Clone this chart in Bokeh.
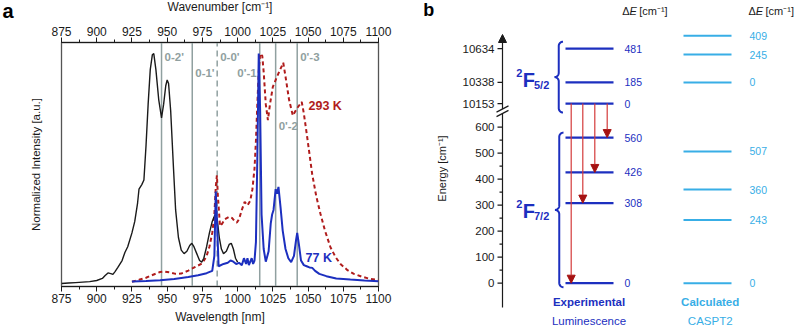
import numpy as np
from bokeh.plotting import figure
from bokeh.layouts import row, column
from bokeh.models import (ColumnDataSource, LinearAxis, SingleIntervalTicker, FixedTicker,
                          Range1d, Arrow, NormalHead, Spacer)
from bokeh.core.properties import value
from bokeh.embed import file_html
from bokeh.resources import INLINE

FONT = "Liberation Sans"
BLACK = "#1a1a1a"
EXP_BLUE = "#1c2fbf"
CALC_BLUE = "#38aee6"
RED = "#b01c1c"
GRAY = "#90a0a0"

# ---------------- panel a : emission spectra ----------------
black_wl = [875, 880, 885, 890, 895, 900, 904, 906, 908, 910, 911.5, 913, 915, 918, 920, 922,
            925, 927, 929, 930, 932, 933.5, 935, 936.5, 938, 939.5, 940.5, 942, 944, 946,
            947.5, 949, 950, 951, 952.5, 954.5, 956, 958, 960, 962, 964, 966, 967.5, 969,
            971, 973, 974.5, 976, 978, 980, 982, 984, 985.5, 987, 988.5, 990, 992, 994,
            995.5, 997, 998.5, 1000]
black_int = [0.0, 0.002, 0.004, 0.006, 0.008, 0.013, 0.022, 0.035, 0.046, 0.043, 0.04, 0.052,
             0.07, 0.1, 0.135, 0.16, 0.22, 0.27, 0.35, 0.41, 0.43, 0.45, 0.60, 0.78, 0.93,
             0.995, 1.0, 0.93, 0.80, 0.72, 0.78, 0.86, 0.885, 0.87, 0.75, 0.5, 0.32, 0.2,
             0.145, 0.13, 0.14, 0.165, 0.175, 0.16, 0.13, 0.10, 0.093, 0.11, 0.16, 0.22,
             0.27, 0.30, 0.28, 0.20, 0.15, 0.13, 0.14, 0.17, 0.175, 0.15, 0.11, 0.093]

k77_wl = [925, 935, 945, 955, 965, 972, 978, 982, 983.5, 984.5, 985.5, 986.5, 990, 993, 995,
          997, 999, 1001, 1003, 1004.5, 1006, 1007, 1008, 1010, 1011, 1012, 1013, 1014, 1015,
          1016, 1017, 1018.5, 1020, 1022, 1023.5, 1024.5, 1025.5, 1027, 1028, 1029, 1030.5,
          1032, 1034, 1036, 1038, 1040, 1041.5, 1042.3, 1043.5, 1045, 1047, 1049, 1051, 1053,
          1055, 1058, 1063, 1070, 1080, 1090, 1100]
k77_int = [0.009, 0.011, 0.014, 0.02, 0.028, 0.036, 0.045, 0.055, 0.12, 0.40, 0.25, 0.075,
           0.085, 0.09, 0.10, 0.095, 0.085, 0.09, 0.08, 0.11, 0.085, 0.11, 0.08, 0.11, 0.085,
           0.10, 0.18, 0.55, 1.0, 0.75, 0.30, 0.15, 0.095, 0.14, 0.26, 0.30, 0.32, 0.41, 0.39,
           0.42, 0.33, 0.23, 0.15, 0.11, 0.093, 0.12, 0.19, 0.22, 0.17, 0.10, 0.08, 0.075,
           0.07, 0.068, 0.055, 0.042, 0.032, 0.022, 0.017, 0.013, 0.01]

k293_wl = [925, 930, 935, 940, 945, 948, 952, 956, 960, 965, 970, 975, 978, 980, 982, 983.5,
           984.5, 985.3, 986, 987.5, 989, 991, 994, 996, 998, 999.5, 1001, 1003, 1005, 1007,
           1009, 1010.5, 1012, 1013, 1014, 1015, 1016, 1017.5, 1018.5, 1020, 1021.5, 1023,
           1025, 1028, 1032.4, 1034, 1036.5, 1039.2, 1042, 1045.5, 1047, 1049.4, 1052.9,
           1055.8, 1058.8, 1062, 1065.9, 1069.5, 1073, 1078, 1082.5, 1088, 1094, 1100]
k293_int = [0.008, 0.016, 0.025, 0.038, 0.05, 0.052, 0.048, 0.042, 0.043, 0.056, 0.072, 0.088,
            0.12, 0.16, 0.22, 0.30, 0.42, 0.47, 0.38, 0.25, 0.26, 0.28, 0.29, 0.285, 0.27,
            0.265, 0.28, 0.32, 0.355, 0.34, 0.36, 0.41, 0.50, 0.62, 0.78, 0.92, 1.0, 0.99,
            0.92, 0.78, 0.71, 0.78, 0.855, 0.90, 0.96, 0.90, 0.80, 0.73, 0.76, 0.79, 0.74,
            0.636, 0.477, 0.38, 0.303, 0.23, 0.158, 0.115, 0.085, 0.058, 0.042, 0.03, 0.02,
            0.016]

trans_pos = [946.0, 967.8, 985.5, 1015.7, 1027.0, 1042.3]
trans_lab = ["0-2'", "0-1'", "0-0'", "0'-1", "0'-2", "0'-3"]
trans_dashed = [False, False, True, False, False, False]
trans_lab_y = [0.983, 0.917, 0.983, 0.917, 0.687, 0.983]
trans_lab_left = [False, False, False, True, False, False]

series_names = ["293 K", "77 K"]
series_lab_x = [1050.3, 1048.2]
series_lab_y = [0.774, 0.113]
series_colors = [RED, EXP_BLUE]

XMIN, XMAX = 875, 1100
YMIN, YMAX = -0.013, 1.048
A_W = 20                               # strip holding the panel letter "a"
A_H = 30
FRAME_L, FRAME_R = 61 - A_W, 22        # px borders of panel a frame
PA_W = 400 - A_W
PXNM = (PA_W - FRAME_L - FRAME_R) / (XMAX - XMIN)
HDR_H = 17


def no_align(p):
    try:
        p.frame_align = False
    except Exception:
        pass
    return p


def blank_fig(w, h, xr, yr):
    f = figure(width=w, height=h, x_range=xr, y_range=yr, output_backend="svg",
               toolbar_location=None, x_axis_location=None, y_axis_location=None,
               min_border=0, outline_line_color=None)
    for g in f.grid:
        g.visible = False
    return f


# panel letter a
afig = blank_fig(A_W, A_H, Range1d(0, A_W), Range1d(0, A_H))
afig.text(x=[2], y=[A_H - 10.5], text=["a"], text_font=value(FONT), text_font_size="20px",
          text_font_style="bold", text_color="black", text_align="left",
          text_baseline="middle")

# header strip of panel a (top-axis title)
hdr = blank_fig(PA_W, HDR_H, Range1d(XMIN - FRAME_L / PXNM, XMAX + FRAME_R / PXNM),
                Range1d(0, HDR_H))
hdr.text(x=[(XMIN + XMAX) / 2], y=[HDR_H - 6.5], text=["Wavenumber [cm⁻¹]"],
         text_font=value(FONT), text_font_size="12px", text_color=BLACK,
         text_align="center", text_baseline="middle")

p1 = figure(width=PA_W, height=326 - HDR_H, x_range=Range1d(XMIN, XMAX),
            y_range=Range1d(YMIN, YMAX), output_backend="svg", toolbar_location=None,
            min_border_left=FRAME_L, min_border_right=FRAME_R, min_border_top=42 - HDR_H,
            min_border_bottom=40)
p1.xgrid.visible = False
p1.ygrid.visible = False
p1.outline_line_color = "#555555"
p1.outline_line_width = 1.3

top_axis = LinearAxis()
p1.add_layout(top_axis, "above")
for ax in [p1.below[0], top_axis]:
    ax.ticker = SingleIntervalTicker(interval=25, num_minor_ticks=2)
    ax.major_tick_in = 0
    ax.major_tick_out = 5
    ax.minor_tick_in = 0
    ax.minor_tick_out = 3
    ax.axis_line_color = BLACK
    ax.major_tick_line_color = BLACK
    ax.minor_tick_line_color = BLACK
    ax.major_label_text_font = FONT
    ax.major_label_text_font_size = "12px"
    ax.major_label_text_color = BLACK
    ax.axis_label_text_font = FONT
    ax.axis_label_text_font_size = "12px"
    ax.axis_label_text_font_style = "normal"
    ax.axis_label_text_color = BLACK
    ax.major_label_standoff = 2
    ax.axis_label_standoff = 4
p1.below[0].axis_label = "Wavelength [nm]"

yax = p1.left[0]
yax.ticker = FixedTicker(ticks=[])
yax.axis_line_color = None
yax.major_tick_line_color = None
yax.minor_tick_line_color = None
yax.axis_label = "Normalized Intensity [a.u.]"
yax.axis_label_text_font = FONT
yax.axis_label_text_font_size = "11.5px"
yax.axis_label_text_font_style = "normal"
yax.axis_label_text_color = BLACK
yax.axis_label_standoff = 20

solid_x = [x for x, d in zip(trans_pos, trans_dashed) if not d]
dash_x = [x for x, d in zip(trans_pos, trans_dashed) if d]
p1.segment(x0=solid_x, y0=YMIN - 1, x1=solid_x, y1=YMAX + 1, line_color=GRAY, line_width=1.5)
p1.segment(x0=dash_x, y0=YMIN - 1, x1=dash_x, y1=YMAX + 1, line_color=GRAY, line_width=1.5,
           line_dash="6 4")

p1.line(k293_wl, k293_int, line_color=RED, line_width=2, line_dash="4 3")
p1.line(black_wl, black_int, line_color=BLACK, line_width=1.4)
p1.line(k77_wl, k77_int, line_color=EXP_BLUE, line_width=2)

for left in [False, True]:
    idx = [i for i, l in enumerate(trans_lab_left) if l == left]
    p1.text(x=[trans_pos[i] for i in idx], y=[trans_lab_y[i] for i in idx],
            text=[trans_lab[i] for i in idx], text_font=value(FONT), text_font_size="11.5px",
            text_font_style="bold", text_color=GRAY,
            text_align="right" if left else "left", text_baseline="middle",
            x_offset=-3 if left else 3)

p1.text(x=series_lab_x, y=series_lab_y, text=series_names, text_color=series_colors,
        text_font=value(FONT), text_font_size="12.5px", text_font_style="bold",
        text_align="left", text_baseline="middle")

# ---------------- panel b : energy level diagram ----------------
f52_origin = 10153
exp_f52 = [0, 185, 481]
exp_f72 = [0, 308, 426, 560]
calc_f52_origin = 10338
calc_f52 = [0, 245, 409]
calc_f72 = [0, 243, 360, 507]
emission_to = [0, 308, 426, 560]
energy_ticks_low = [0, 100, 200, 300, 400, 500, 600]
energy_minor_low = [50, 150, 250, 350, 450, 550]
energy_ticks_high = [10153, 10338, 10634]

# broken energy axis: plot coordinate = E below the break, compressed above it
UP_BASE_Y = 691.0
UP_SCALE = 0.4385


def ey(E):
    E = np.asarray(E, dtype=float)
    return np.where(E > 5000, UP_BASE_Y + (E - f52_origin) * UP_SCALE, E)


PX0, PXU = 282.7, 0.26   # layout helper: pixel row -> plot coordinate


def py(px):
    return (PX0 - px) / PXU


p2 = blank_fig(396, 326, Range1d(0, 396), Range1d(py(326), py(0)))

AX_X = 102
p2.segment(x0=[AX_X], y0=[py(307)], x1=[AX_X], y1=[py(113)], line_color=BLACK, line_width=1.2)
c1, c2 = py(108.5), py(113)
p2.segment(x0=[AX_X - 6, AX_X - 6], y0=[c1 - 12, c2 - 12], x1=[AX_X + 6, AX_X + 6],
           y1=[c1 + 12, c2 + 12], line_color=BLACK, line_width=1.2)
p2.add_layout(Arrow(end=NormalHead(size=8, fill_color=BLACK, line_color=BLACK),
                    x_start=AX_X, y_start=c1, x_end=AX_X, y_end=py(34),
                    line_color=BLACK, line_width=1.2))

major_y = np.concatenate([ey(energy_ticks_low), ey(energy_ticks_high)])
major_txt = [str(v) for v in energy_ticks_low] + [str(v) for v in energy_ticks_high]
p2.segment(x0=AX_X - 5, y0=major_y, x1=AX_X, y1=major_y, line_color=BLACK, line_width=1.2)
minor_y = ey(energy_minor_low)
p2.segment(x0=AX_X - 3, y0=minor_y, x1=AX_X, y1=minor_y, line_color=BLACK, line_width=1.2)
p2.text(x=AX_X - 8, y=major_y, text=major_txt, text_font=value(FONT), text_font_size="11.5px",
        text_color=BLACK, text_align="right", text_baseline="middle")
p2.text(x=[41], y=[py(168)], text=["Energy [cm⁻¹]"], angle=np.pi / 2, text_font=value(FONT),
        text_font_size="11px", text_color=BLACK, text_align="center", text_baseline="middle")

EXP_X0, EXP_X1, EXP_LX = 165, 213, 224
CALC_X0, CALC_X1, CALC_LX = 283, 331, 349
exp_y = np.concatenate([ey([f52_origin + v for v in exp_f52]), ey(exp_f72)])
exp_txt = [str(v) for v in exp_f52 + exp_f72]
calc_y = np.concatenate([ey([calc_f52_origin + v for v in calc_f52]), ey(calc_f72)])
calc_txt = [str(v) for v in calc_f52 + calc_f72]

em_x = [170.7, 182.3, 194.3, 206.7]
em_src = ColumnDataSource(dict(x=em_x, y0=[float(ey(f52_origin))] * len(emission_to),
                               y1=list(ey(emission_to))))
p2.add_layout(Arrow(source=em_src, x_start="x", y_start="y0", x_end="x", y_end="y1",
                    line_color="#d43a3a", line_width=1.2,
                    end=NormalHead(size=8, fill_color="#a51212", line_color="#a51212")))

p2.segment(x0=EXP_X0, y0=exp_y, x1=EXP_X1, y1=exp_y, line_color=EXP_BLUE, line_width=2.2)
p2.segment(x0=CALC_X0, y0=calc_y, x1=CALC_X1, y1=calc_y, line_color=CALC_BLUE, line_width=2)
p2.text(x=EXP_LX, y=exp_y, text=exp_txt, text_font=value(FONT), text_font_size="10.5px",
        text_color=EXP_BLUE, text_align="left", text_baseline="middle")
p2.text(x=CALC_LX, y=calc_y, text=calc_txt, text_font=value(FONT), text_font_size="10.5px",
        text_color=CALC_BLUE, text_align="left", text_baseline="middle")


def brace_path(x_tip, x_end, y_bot, y_top, r_px=4.25):
    r = (x_end - x_tip) / 2.0
    ry = r_px / PXU
    ymid = 0.5 * (y_bot + y_top)
    xs, ys = [], []
    a = np.linspace(np.pi / 2, np.pi, 10)
    xs += list(x_end + r * np.cos(a)); ys += list(y_top - ry + ry * np.sin(a))
    a = np.linspace(0, -np.pi / 2, 10)
    xs += list(x_tip + r * np.cos(a)); ys += list(ymid + ry + ry * np.sin(a))
    a = np.linspace(np.pi / 2, 0, 10)
    xs += list(x_tip + r * np.cos(a)); ys += list(ymid - ry + ry * np.sin(a))
    a = np.linspace(np.pi, 1.5 * np.pi, 10)
    xs += list(x_end + r * np.cos(a)); ys += list(y_bot + ry + ry * np.sin(a))
    return xs, ys


up_lo, up_hi = float(ey(f52_origin + min(exp_f52))), float(ey(f52_origin + max(exp_f52)))
lo_lo, lo_hi = float(ey(min(exp_f72))), float(ey(max(exp_f72)))
bx, by = brace_path(154, 162.5, up_lo - 9 / PXU, up_hi + 7 / PXU)
p2.line(bx, by, line_color=EXP_BLUE, line_width=2)
bx, by = brace_path(154.5, 163, lo_lo - 4 / PXU, lo_hi + 5 / PXU)
p2.line(bx, by, line_color=EXP_BLUE, line_width=2)

term_F_y = [py(79.5), py(210.8)]
term_sub = ["5/2", "7/2"]
p2.text(x=[115.7, 115.7], y=[y + 7.5 / PXU for y in term_F_y], text=["2", "2"],
        text_font=value(FONT), text_font_size="11px", text_font_style="bold",
        text_color=EXP_BLUE, text_align="left", text_baseline="middle")
p2.text(x=[122.3, 122.3], y=term_F_y, text=["F", "F"], text_font=value(FONT),
        text_font_size="20px", text_font_style="bold", text_color=EXP_BLUE,
        text_align="left", text_baseline="middle")
p2.text(x=[133.5, 133.5], y=[y - 4.5 / PXU for y in term_F_y], text=term_sub,
        text_font=value(FONT), text_font_size="11px", text_font_style="bold",
        text_color=EXP_BLUE, text_align="left", text_baseline="middle")

col_center = [188.5, 309.7]
col_colors = [EXP_BLUE, CALC_BLUE]
col_title = ["Experimental", "Calculated"]
col_method = ["Luminescence", "CASPT2"]
p2.text(x=col_center, y=[py(301.5)] * 2, text=col_title, text_color=col_colors,
        text_font=value(FONT), text_font_size="11.5px", text_font_style="bold",
        text_align="center", text_baseline="middle")
p2.text(x=col_center, y=[py(320.5)] * 2, text=col_method, text_color=col_colors,
        text_font=value(FONT), text_font_size="11.5px",
        text_align="center", text_baseline="middle")

hdr_x = [EXP_LX - 2.3, CALC_LX - 1]
hdr_y = py(10.5)
p2.text(x=hdr_x, y=[hdr_y] * 2, text=["Δ", "Δ"], text_font=value(FONT), text_font_size="11px",
        text_color=BLACK, text_align="left", text_baseline="middle")
p2.text(x=hdr_x, y=[hdr_y] * 2, text=["E", "E"], text_font=value(FONT), text_font_size="11px",
        text_font_style="italic", text_color=BLACK, text_align="left", text_baseline="middle",
        x_offset=7.2)
p2.text(x=hdr_x, y=[hdr_y] * 2, text=["[cm⁻¹]", "[cm⁻¹]"], text_font=value(FONT),
        text_font_size="11px", text_color=BLACK, text_align="left", text_baseline="middle",
        x_offset=17)

p2.text(x=[22.7], y=[py(9.5)], text=["b"], text_font=value(FONT), text_font_size="18px",
        text_font_style="bold", text_color="black", text_align="left", text_baseline="middle")

for fig in (afig, hdr, p1, p2):
    no_align(fig)

layout = row(column(afig, Spacer(width=A_W, height=326 - A_H)), column(hdr, p1), p2)
open("out.html", "w").write(file_html(layout, INLINE))
